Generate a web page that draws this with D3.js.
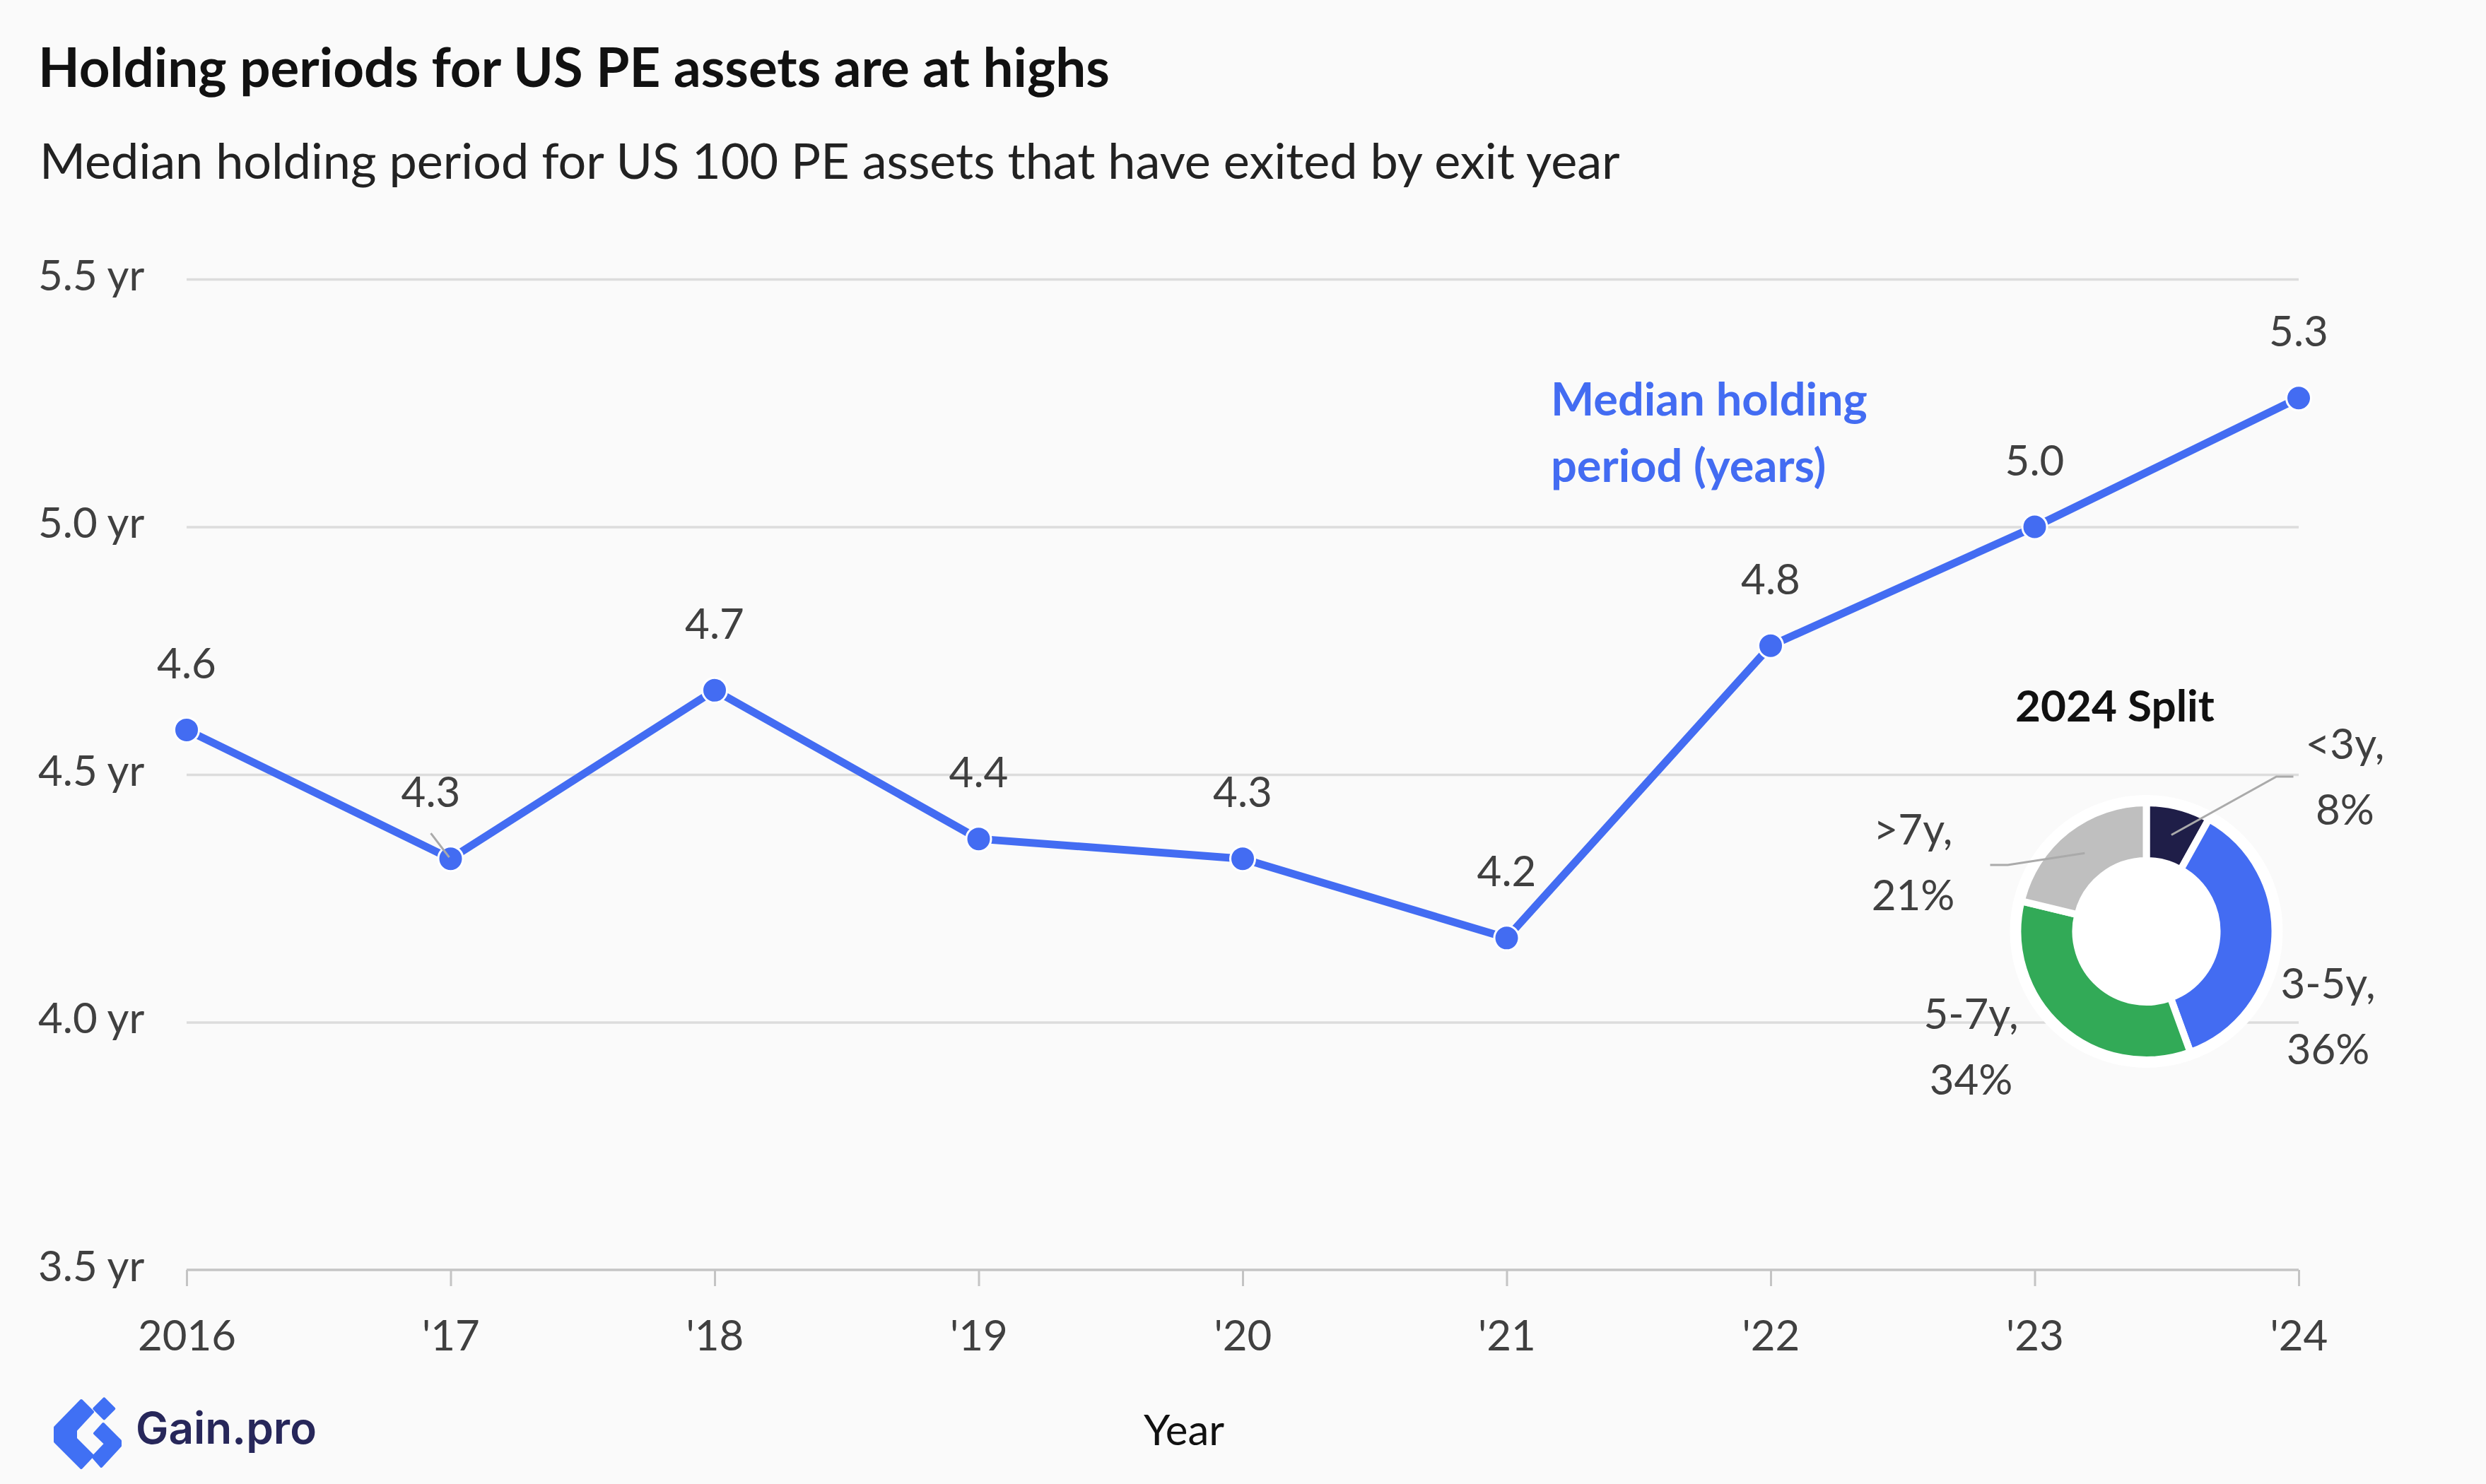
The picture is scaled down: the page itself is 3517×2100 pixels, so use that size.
<!DOCTYPE html>
<html>
<head>
<meta charset="utf-8">
<script src="https://cdn.jsdelivr.net/npm/d3@7"></script>
<style>
  html, body { margin: 0; padding: 0; background: #fafafa; }
  svg { display: block; font-family: Lato, "Noto Sans", sans-serif; }
</style>
</head>
<body>
<svg id="chart" width="3517" height="2100"></svg>
<script>
// ---------------- DATA ----------------
const years = ["2016", "'17", "'18", "'19", "'20", "'21", "'22", "'23", "'24"];
const holdingYears = [4.59, 4.33, 4.67, 4.37, 4.33, 4.17, 4.76, 5.0, 5.26];
const yTicks = [3.5, 4.0, 4.5, 5.0, 5.5];
const splitLabels = ["<3y", "3-5y", "5-7y", ">7y"];
const splitValues = [8, 36, 34, 21];
const splitColors = ["#1f1e48", "#436cf2", "#32aa57", "#bfbfbf"];

const titleText = "Holding periods for US PE assets are at highs";
const subtitleText = "Median holding period for US 100 PE assets that have exited by exit year";
const seriesName = ["Median holding", "period (years)"];
const donutTitle = "2024 Split";

// ---------------- LAYOUT ----------------
const W = 3517, H = 2100;
const plot = { left: 264, right: 3252, top: 395, bottom: 1797 };
const blue = "#436cf2";
const txt = "#404040";

const svg = d3.select("#chart");
svg.append("rect").attr("width", W).attr("height", H).attr("fill", "#fafafa");

function fitWidth(sel, w) {
  const cur = sel.node().getComputedTextLength();
  const fs = parseFloat(sel.attr("font-size"));
  sel.attr("font-size", fs * w / cur);
}

// Title & subtitle
const t1 = svg.append("text").attr("x", 54).attr("y", 123)
  .attr("font-size", 70).attr("font-weight", 700).attr("fill", "#111").text(titleText);
fitWidth(t1, 1516);
const t2 = svg.append("text").attr("x", 56).attr("y", 253)
  .attr("font-size", 70).attr("font-weight", 400).attr("fill", "#222").text(subtitleText);
fitWidth(t2, 2236);

// Scales
const x = d3.scalePoint().domain(years).range([plot.left, plot.right]);
const y = d3.scaleLinear().domain([3.5, 5.5]).range([plot.bottom, plot.top]);

// Gridlines + y labels
const yAxis = svg.append("g").attr("transform", `translate(${plot.left},0)`)
  .call(d3.axisLeft(y).tickValues(yTicks).tickSize(0).tickFormat(d => d3.format(".1f")(d) + " yr"));
yAxis.select(".domain").remove();
yAxis.selectAll(".tick text")
  .attr("x", 54 - plot.left).attr("dy", 15).attr("text-anchor", "start")
  .attr("font-family", "Lato").attr("font-size", 60).attr("fill", txt);
yAxis.selectAll(".tick").filter(d => d !== 3.5).append("line")
  .attr("x1", 0).attr("x2", plot.right - plot.left)
  .attr("stroke", "#dcdcdc").attr("stroke-width", 3.5);

// X axis
const xAxis = svg.append("g").attr("transform", `translate(0,${plot.bottom})`)
  .call(d3.axisBottom(x).tickSize(23).tickSizeOuter(0));
xAxis.select(".domain").attr("stroke", "#c4c4c4").attr("stroke-width", 3.5)
  .attr("d", `M${plot.left},0H${plot.right}`);
xAxis.selectAll(".tick line").attr("stroke", "#c4c4c4").attr("stroke-width", 3);
xAxis.selectAll(".tick text").attr("y", 114).attr("dy", 0)
  .attr("font-family", "Lato").attr("font-size", 60).attr("fill", txt);

svg.append("text").attr("x", 1675).attr("y", 2045).attr("text-anchor", "middle")
  .attr("font-size", 60).attr("fill", "#111").text("Year");

// Line
const pts = years.map((d, i) => ({ year: d, value: holdingYears[i] }));
svg.append("path").datum(pts)
  .attr("d", d3.line().x(d => x(d.year)).y(d => y(d.value)))
  .attr("fill", "none").attr("stroke", blue).attr("stroke-width", 11)
  .attr("stroke-linejoin", "round");

svg.selectAll("circle.pt").data(pts).join("circle").attr("class", "pt")
  .attr("cx", d => x(d.year)).attr("cy", d => y(d.value)).attr("r", 17.5)
  .attr("fill", blue).attr("stroke", "#fff").attr("stroke-width", 3);

// Value labels (index 1 shifted left with a leader)
const labelShift = { 1: -28 };
svg.selectAll("text.val").data(pts).join("text").attr("class", "val")
  .attr("x", (d, i) => x(d.year) + (labelShift[i] || 0))
  .attr("y", d => y(d.value) - 73)
  .attr("text-anchor", "middle").attr("font-size", 60).attr("fill", txt)
  .text(d => d3.format(".1f")(d.value));
Object.keys(labelShift).forEach(k => {
  const d = pts[k];
  svg.append("line")
    .attr("x1", x(d.year) + labelShift[k]).attr("y1", y(d.value) - 36)
    .attr("x2", x(d.year) - 2).attr("y2", y(d.value) - 2)
    .attr("stroke", "#aaa").attr("stroke-width", 3);
});

// Series annotation
const ann = svg.append("g");
const a1 = ann.append("text").attr("x", 2194).attr("y", 588).attr("font-size", 64)
  .attr("font-weight", 700).attr("fill", blue).text(seriesName[0]);
fitWidth(a1, 448);
const fsA = a1.attr("font-size");
ann.append("text").attr("x", 2194).attr("y", 682).attr("font-size", fsA)
  .attr("font-weight", 700).attr("fill", blue).text(seriesName[1]);

// ---------------- DONUT ----------------
const dc = { x: 3036.5, y: 1318 };
const rIn = 100, rOut = 182;
const g = svg.append("g").attr("transform", `translate(${dc.x},${dc.y})`);
g.append("circle").attr("r", rOut + 11).attr("fill", "#fff");
const pie = d3.pie().sort(null).value(d => d.v);
const arcs = pie(splitLabels.map((l, i) => ({ l, v: splitValues[i], c: splitColors[i] })));
const arc = d3.arc().innerRadius(rIn).outerRadius(rOut);
g.selectAll("path").data(arcs).join("path")
  .attr("d", arc).attr("fill", d => d.data.c)
  .attr("stroke", "#fff").attr("stroke-width", 10).attr("stroke-linejoin", "round");

svg.append("text").attr("x", 2992).attr("y", 1021).attr("text-anchor", "middle")
  .attr("font-size", 62).attr("font-weight", 700).attr("fill", "#111").text(donutTitle);

// label layout offsets relative to donut centre
const sliceLabelPos = [
  { dx: 281, dy: -244, leader: [[184, -219], [208, -219]] },
  { dx: 257, dy: 95 },
  { dx: -248, dy: 138 },
  { dx: -330, dy: -123, leader: [[-196, -94], [-221, -94]] }
];
arcs.forEach((a, i) => {
  const p = sliceLabelPos[i];
  const t = g.append("text").attr("x", p.dx).attr("y", p.dy)
    .attr("text-anchor", "middle").attr("font-size", 60).attr("fill", txt);
  t.append("tspan").attr("x", p.dx).text(a.data.l + ",");
  t.append("tspan").attr("x", p.dx).attr("dy", 93).text(a.data.v + "%");
  if (p.leader) {
    const c = d3.arc().innerRadius(rIn).outerRadius(rOut).centroid(a);
    g.append("path")
      .attr("d", d3.line()([c, ...p.leader]))
      .attr("fill", "none").attr("stroke", "#aaa").attr("stroke-width", 3);
  }
});

// ---------------- LOGO ----------------
const logo = svg.append("g");
const logoBlue = "#4070f4";
const logoShapes = [
  [[115,1982],[131,1998],[107,2024],[107,2036],[131,2060],[115,2077],[78,2040],[78,2020]],
  [[147.3,1979.3],[161.3,1993.3],[147.3,2007.3],[133.3,1993.3]],
  [[146,2015],[170,2039],[170,2046],[143.3,2075],[131.7,2061.7],[149.3,2043],[134,2028.3]]
];
logoShapes.forEach(s => {
  logo.append("path").attr("d", d3.line()(s) + "Z")
    .attr("fill", logoBlue).attr("stroke", logoBlue).attr("stroke-width", 4)
    .attr("stroke-linejoin", "round");
});
const lt = logo.append("text").attr("x", 192).attr("y", 2043).attr("font-family", "Inter, Lato, sans-serif")
  .attr("font-size", 52).attr("font-weight", 600).attr("fill", "#27275a").text("Gain.pro");
fitWidth(lt, 256);
</script>
</body>
</html>
